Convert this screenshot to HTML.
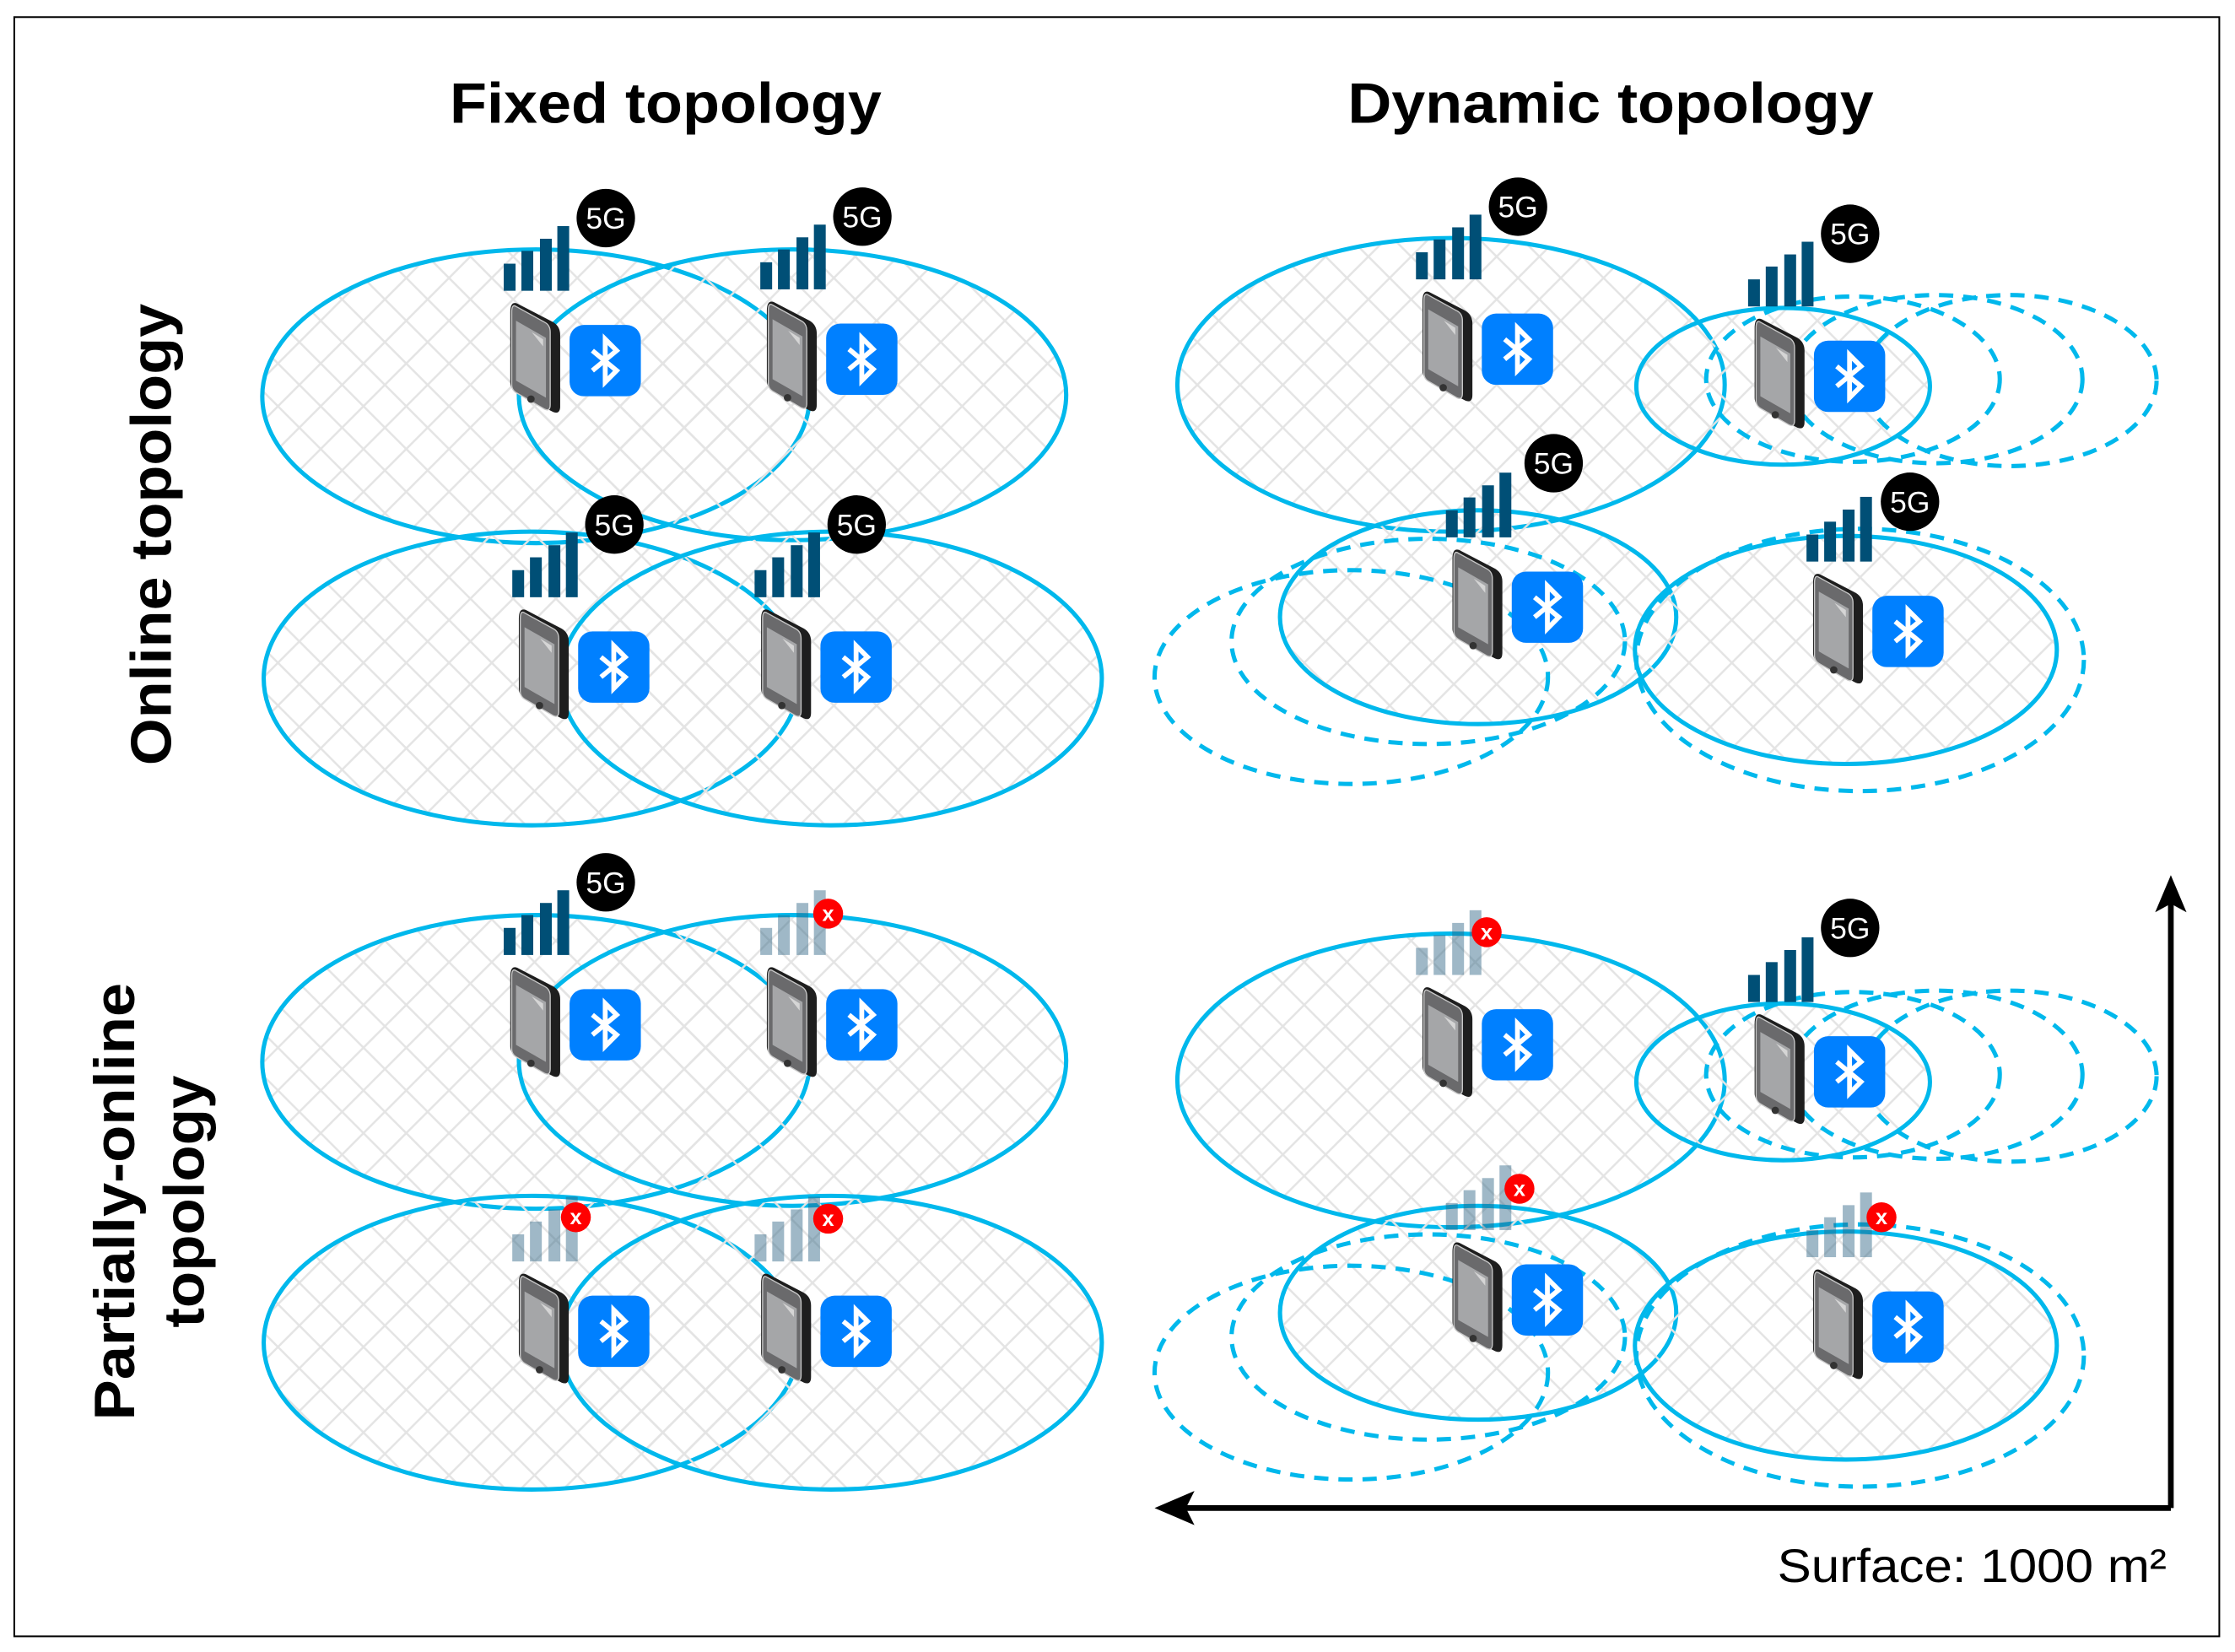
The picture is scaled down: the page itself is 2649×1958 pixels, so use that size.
<!DOCTYPE html>
<html><head><meta charset="utf-8">
<style>html,body{margin:0;padding:0;background:#fff}svg{display:block}</style>
</head><body>
<svg xmlns="http://www.w3.org/2000/svg" xmlns:xlink="http://www.w3.org/1999/xlink" width="2649" height="1958" viewBox="0 0 1568 1159">
<defs>
<pattern id="hatch" width="30" height="30" patternUnits="userSpaceOnUse">
<path d="M0,0 L30,30 M30,0 L0,30" stroke="#e4e4e4" stroke-width="1.5"/>
</pattern>
<g id="phone">
<path d="M5,0 L30,13 Q35,16 35,22 L35,72 Q35,78 30,76 L5,63 Q0,60 0,55 L0,6 Q0,-2 5,0Z" fill="#1e1e1e"/>
<path d="M4,2 L24,13 Q28,15 28,20 L28,71 Q28,76 24,74 L5,63 Q1,61 1,57 L1,6 Q1,0 4,2Z" fill="#6a6a6c" stroke="#c8c8c8" stroke-width="0.8"/>
<path d="M4,12 L25,24 L25,66 L4,54Z" fill="#a5a6a8"/>
<path d="M15,20 L23,25 L23,30 Z" fill="#d5d5d5"/>
<circle cx="14.5" cy="67" r="2.6" fill="#333"/>
</g>
<g id="bt">
<rect x="0" y="0" width="50" height="50" rx="10" fill="#0080ff"/>
<path d="M16,18 L33,32 L25,40 L25,10 L33,18 L16,32" stroke="#fff" stroke-width="3.4" fill="none" stroke-linejoin="miter"/>
</g>
<g id="bars">
<rect x="-4.6" y="-28" width="8.3" height="19" fill="#004f76"/>
<rect x="7.8" y="-37" width="8.3" height="28" fill="#004f76"/>
<rect x="20.8" y="-45.5" width="8.3" height="36.5" fill="#004f76"/>
<rect x="33" y="-54.4" width="8.3" height="45.4" fill="#004f76"/>
</g>
<g id="gbars" opacity="0.45">
<rect x="-4.6" y="-28" width="8.3" height="19" fill="#2d6484"/>
<rect x="7.8" y="-37" width="8.3" height="28" fill="#2d6484"/>
<rect x="20.8" y="-45.5" width="8.3" height="36.5" fill="#2d6484"/>
<rect x="33" y="-54.4" width="8.3" height="45.4" fill="#2d6484"/>
</g>
</defs>

<rect x="10" y="12" width="1547" height="1136" fill="#fff" stroke="#000" stroke-width="1.2"/>

<g font-family="Liberation Sans, Arial, sans-serif" font-weight="bold" font-size="40" fill="#000">
<text x="467" y="86" text-anchor="middle" textLength="303" lengthAdjust="spacingAndGlyphs">Fixed topology</text>
<text x="1130" y="86" text-anchor="middle" textLength="369" lengthAdjust="spacingAndGlyphs">Dynamic topology</text>
<text transform="translate(120,375) rotate(-90)" text-anchor="middle" textLength="324" lengthAdjust="spacingAndGlyphs">Online topology</text>
<text transform="translate(94,843) rotate(-90)" text-anchor="middle" textLength="307" lengthAdjust="spacingAndGlyphs">Partially-online</text>
<text transform="translate(143,843) rotate(-90)" text-anchor="middle" textLength="177" lengthAdjust="spacingAndGlyphs">topology</text>
</g>

<g fill="url(#hatch)" stroke="#00b8ec" stroke-width="3">
<ellipse cx="376" cy="278" rx="192" ry="103"/>
<ellipse cx="556" cy="277" rx="192" ry="102"/>
<ellipse cx="373" cy="476" rx="188" ry="103"/>
<ellipse cx="583" cy="476" rx="190" ry="103"/>
<ellipse cx="376" cy="745" rx="192" ry="103"/>
<ellipse cx="556" cy="744" rx="192" ry="102"/>
<ellipse cx="373" cy="942" rx="188" ry="103"/>
<ellipse cx="583" cy="942" rx="190" ry="103"/>
<ellipse cx="1018" cy="270" rx="192" ry="103"/>
<ellipse cx="1251" cy="271" rx="103" ry="55"/>
<ellipse cx="1037" cy="433" rx="139" ry="75"/>
<ellipse cx="1295" cy="456" rx="148" ry="80"/>
<ellipse cx="1018" cy="758" rx="192" ry="103"/>
<ellipse cx="1251" cy="759" rx="103" ry="55"/>
<ellipse cx="1037" cy="921" rx="139" ry="75"/>
<ellipse cx="1295" cy="944" rx="148" ry="80"/>
</g>
<g fill="none" stroke="#00b8ec" stroke-width="3" stroke-dasharray="10,7">
<ellipse cx="1300" cy="266" rx="103" ry="58"/>
<ellipse cx="1358" cy="266" rx="103" ry="59"/>
<ellipse cx="1410" cy="267" rx="103" ry="60"/>
<ellipse cx="948" cy="475" rx="138" ry="75"/>
<ellipse cx="1002" cy="450" rx="138" ry="72"/>
<ellipse cx="1305" cy="463" rx="157" ry="92"/>
<ellipse cx="1300" cy="754" rx="103" ry="58"/>
<ellipse cx="1358" cy="754" rx="103" ry="59"/>
<ellipse cx="1410" cy="755" rx="103" ry="60"/>
<ellipse cx="948" cy="963" rx="138" ry="75"/>
<ellipse cx="1002" cy="938" rx="138" ry="72"/>
<ellipse cx="1305" cy="951" rx="157" ry="92"/>
</g>

<g font-family="Liberation Sans, Arial, sans-serif" font-size="21" fill="#fff" text-anchor="middle">
<g transform="translate(358,213)"><use xlink:href="#bars"/><circle cx="67" cy="-60" r="20.5" fill="#000"/><text x="67" y="-52.5">5G</text><use xlink:href="#phone"/><use xlink:href="#bt" x="41.6" y="15"/></g>
<g transform="translate(538,212)"><use xlink:href="#bars"/><circle cx="67" cy="-60" r="20.5" fill="#000"/><text x="67" y="-52.5">5G</text><use xlink:href="#phone"/><use xlink:href="#bt" x="41.6" y="15"/></g>
<g transform="translate(364,428)"><use xlink:href="#bars"/><circle cx="67" cy="-60" r="20.5" fill="#000"/><text x="67" y="-52.5">5G</text><use xlink:href="#phone"/><use xlink:href="#bt" x="41.6" y="15"/></g>
<g transform="translate(534,428)"><use xlink:href="#bars"/><circle cx="67" cy="-60" r="20.5" fill="#000"/><text x="67" y="-52.5">5G</text><use xlink:href="#phone"/><use xlink:href="#bt" x="41.6" y="15"/></g>
<g transform="translate(998,205)"><use xlink:href="#bars"/><circle cx="67" cy="-60" r="20.5" fill="#000"/><text x="67" y="-52.5">5G</text><use xlink:href="#phone"/><use xlink:href="#bt" x="41.6" y="15"/></g>
<g transform="translate(1231,224)"><use xlink:href="#bars"/><circle cx="67" cy="-60" r="20.5" fill="#000"/><text x="67" y="-52.5">5G</text><use xlink:href="#phone"/><use xlink:href="#bt" x="41.6" y="15"/></g>
<g transform="translate(1019,386)"><use xlink:href="#bars"/><circle cx="71" cy="-61" r="20.5" fill="#000"/><text x="71" y="-53.5">5G</text><use xlink:href="#phone"/><use xlink:href="#bt" x="41.6" y="15"/></g>
<g transform="translate(1272,403)"><use xlink:href="#bars"/><circle cx="68" cy="-51" r="20.5" fill="#000"/><text x="68" y="-43.5">5G</text><use xlink:href="#phone"/><use xlink:href="#bt" x="41.6" y="15"/></g>
<g transform="translate(358,679)"><use xlink:href="#bars"/><circle cx="67" cy="-60" r="20.5" fill="#000"/><text x="67" y="-52.5">5G</text><use xlink:href="#phone"/><use xlink:href="#bt" x="41.6" y="15"/></g>
<g transform="translate(538,679)"><use xlink:href="#gbars"/><use xlink:href="#phone"/><use xlink:href="#bt" x="41.6" y="15"/></g>
<g transform="translate(364,894)"><use xlink:href="#gbars"/><use xlink:href="#phone"/><use xlink:href="#bt" x="41.6" y="15"/></g>
<g transform="translate(534,894)"><use xlink:href="#gbars"/><use xlink:href="#phone"/><use xlink:href="#bt" x="41.6" y="15"/></g>
<g transform="translate(998,693)"><use xlink:href="#gbars"/><use xlink:href="#phone"/><use xlink:href="#bt" x="41.6" y="15"/></g>
<g transform="translate(1231,712)"><use xlink:href="#bars"/><circle cx="67" cy="-61" r="20.5" fill="#000"/><text x="67" y="-53.5">5G</text><use xlink:href="#phone"/><use xlink:href="#bt" x="41.6" y="15"/></g>
<g transform="translate(1019,872)"><use xlink:href="#gbars"/><use xlink:href="#phone"/><use xlink:href="#bt" x="41.6" y="15"/></g>
<g transform="translate(1272,891)"><use xlink:href="#gbars"/><use xlink:href="#phone"/><use xlink:href="#bt" x="41.6" y="15"/></g>
</g>

<g font-family="Liberation Sans, Arial, sans-serif" font-size="15" font-weight="bold" fill="#fff" text-anchor="middle">
<circle cx="581" cy="641" r="10.5" fill="#ff0000"/><text x="581" y="646">x</text>
<circle cx="404" cy="854" r="10.5" fill="#ff0000"/><text x="404" y="859">x</text>
<circle cx="581" cy="855" r="10.5" fill="#ff0000"/><text x="581" y="860">x</text>
<circle cx="1043" cy="654" r="10.5" fill="#ff0000"/><text x="1043" y="659">x</text>
<circle cx="1066" cy="834" r="10.5" fill="#ff0000"/><text x="1066" y="839">x</text>
<circle cx="1320" cy="854" r="10.5" fill="#ff0000"/><text x="1320" y="859">x</text>
</g>

<path d="M1523,1058 L1523,630" stroke="#000" stroke-width="4" fill="none"/>
<path d="M1523,1058 L830,1058" stroke="#000" stroke-width="4" fill="none"/>
<path d="M1523,614 L1512,640 L1523,634 L1534,640Z" fill="#000"/>
<path d="M810,1058 L838,1046 L832,1058 L838,1070Z" fill="#000"/>
<text x="1520" y="1110" text-anchor="end" font-family="Liberation Sans, Arial, sans-serif" font-size="33" fill="#000" textLength="273" lengthAdjust="spacingAndGlyphs">Surface: 1000 m²</text>
</svg>
</body></html>
